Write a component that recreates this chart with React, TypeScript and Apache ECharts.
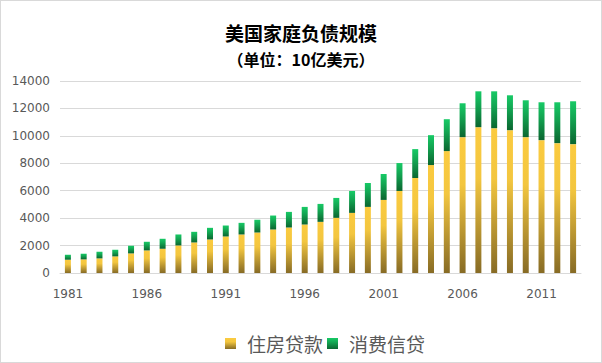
import React, { useEffect, useRef } from "react";
import * as echarts from "echarts";

const years: string[] = [];
for (let y = 1981; y <= 2013; y++) years.push(String(y));

const totals = [
  1330, 1405, 1550, 1695, 1986, 2277, 2495, 2810, 3003, 3294, 3463, 3657, 3875, 4190, 4456,
  4820, 5038, 5474, 5982, 6564, 7218, 8017, 9034, 10051, 11214, 12376, 13248, 13248, 12958,
  12594, 12449, 12449, 12522,
];
const mortgage = [
  969, 993, 1066, 1211, 1429, 1647, 1768, 2010, 2228, 2446, 2664, 2810, 2955, 3173, 3318,
  3536, 3730, 4021, 4384, 4820, 5329, 5982, 6927, 7871, 8889, 9906, 10633, 10560, 10415,
  9906, 9688, 9470, 9397,
];
const consumer = totals.map((t, i) => t - mortgage[i]);

const yTicks = [0, 2000, 4000, 6000, 8000, 10000, 12000, 14000];

export default function App() {
  const ref = useRef<HTMLDivElement>(null);
  useEffect(() => {
    document.body.style.margin = "0";
    if (!ref.current) return;
    const chart = echarts.init(ref.current, null, { renderer: "svg" });
    const yellow = new echarts.graphic.LinearGradient(0, 0, 0, 1, [
      { offset: 0, color: "#FBCB40" },
      { offset: 0.35, color: "#F3C63F" },
      { offset: 1, color: "#876B25" },
    ]);
    const green = new echarts.graphic.LinearGradient(0, 0, 0, 1, [
      { offset: 0, color: "#17CA66" },
      { offset: 0.4, color: "#13A552" },
      { offset: 1, color: "#0A6630" },
    ]);
    chart.setOption({
      animation: false,
      backgroundColor: "#ffffff",
      title: [
        {
          text: "美国家庭负债规模",
          left: "center",
          top: 17,
          textStyle: {
            fontFamily: "Noto Sans CJK SC",
            fontSize: 19,
            fontWeight: "bold",
            color: "#000000",
          },
        },
        {
          text: "（单位：10亿美元）",
          left: "center",
          top: 45,
          textStyle: {
            fontFamily: "Noto Sans CJK SC",
            fontSize: 16,
            fontWeight: "bold",
            color: "#000000",
          },
        },
      ],
      legend: {
        top: 328,
        left: 219,
        icon: "rect",
        itemWidth: 11,
        itemHeight: 11,
        itemGap: 4,
        textStyle: { fontFamily: "Noto Sans CJK SC", fontSize: 19, color: "#595959", padding: [0, 0, 0, 6] },
        data: [
          { name: "住房贷款", itemStyle: { color: yellow } },
          { name: "消费信贷", itemStyle: { color: green } },
        ],
      },
      grid: { left: 59, right: 20, top: 80, bottom: 89, containLabel: false },
      xAxis: {
        type: "category",
        data: years,
        axisTick: { show: false },
        axisLine: { lineStyle: { color: "#D9D9D9", width: 1 } },
        axisLabel: {
          interval: 4,
          margin: 15,
          color: "#595959",
          fontSize: 12,
          fontFamily: "DejaVu Sans",
        },
      },
      yAxis: {
        type: "value",
        min: yTicks[0],
        max: yTicks[yTicks.length - 1],
        interval: 2000,
        axisLine: { show: false },
        axisTick: { show: false },
        splitLine: { lineStyle: { color: "#D9D9D9", width: 1 } },
        axisLabel: {
          margin: 10,
          color: "#595959",
          fontSize: 12,
          fontFamily: "DejaVu Sans",
          formatter: (v: number) => String(v),
        },
      },
      series: [
        {
          name: "住房贷款",
          type: "bar",
          stack: "total",
          barWidth: 6,
          data: mortgage,
          itemStyle: { color: yellow },
        },
        {
          name: "消费信贷",
          type: "bar",
          stack: "total",
          barWidth: 6,
          data: consumer,
          itemStyle: { color: green },
        },
      ],
    });
    return () => chart.dispose();
  }, []);
  return (
    <div
      ref={ref}
      style={{ width: 602, height: 363, boxSizing: "border-box", border: "1px solid #D9D9D9" }}
    />
  );
}
